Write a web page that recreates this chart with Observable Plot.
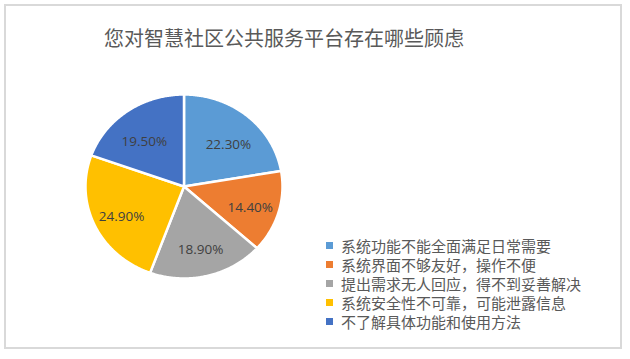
<!DOCTYPE html>
<html>
<head>
<meta charset="utf-8">
<script src="https://cdn.jsdelivr.net/npm/d3@7"></script>
<script src="https://cdn.jsdelivr.net/npm/@observablehq/plot@0.6"></script>
<style>
  body { margin: 0; background: #fff; }
  #wrap { position: relative; width: 630px; height: 359px; overflow: hidden; background: #fff; }
  #frame { position: absolute; left: 4px; top: 4px; width: 614px; height: 341px; border: 2px solid #d9d9d9; }
  #title { position: absolute; left: 0; width: 568px; top: 25px; text-align: center;
           font-family: "Noto Sans CJK SC", sans-serif; font-size: 20px; color: #595959; line-height: 26px; }
  #chart { position: absolute; left: 0; top: 0; }
  #legend { position: absolute; left: 325px; top: 236px; font-family: "Noto Sans CJK SC", sans-serif;
            font-size: 15px; color: #595959; }
  .row { display: flex; align-items: center; height: 19px; }
  .sw { width: 7px; height: 7px; margin-right: 8px; margin-left: 1px; }
</style>
</head>
<body>
<div id="wrap">
  <div id="frame"></div>
  <div id="chart"></div>
  <div id="title"></div>
  <div id="legend"></div>
</div>
<script>
const title = "您对智慧社区公共服务平台存在哪些顾虑";
const categories = [
  "系统功能不能全面满足日常需要",
  "系统界面不够友好，操作不便",
  "提出需求无人回应，得不到妥善解决",
  "系统安全性不可靠，可能泄露信息",
  "不了解具体功能和使用方法"
];
const values = [22.3, 14.4, 18.9, 24.9, 19.5];
const labels = ["22.30%", "14.40%", "18.90%", "24.90%", "19.50%"];
const colors = ["#5B9BD5", "#ED7D31", "#A5A5A5", "#FFC000", "#4472C4"];

document.getElementById("title").textContent = title;

const pie = d3.pie().sort(null).value(d => d.value);
const arcs = pie(categories.map((c, i) => ({category: c, value: values[i], label: labels[i]})));

// polygon points per slice: center -> arc -> center (angle 0 at top, clockwise)
const pts = [];
for (const a of arcs) {
  const n = Math.max(2, Math.ceil((a.endAngle - a.startAngle) / 0.01));
  pts.push({category: a.data.category, x: 0, y: 0});
  for (let k = 0; k <= n; k++) {
    const t = a.startAngle + (a.endAngle - a.startAngle) * k / n;
    pts.push({category: a.data.category, x: Math.sin(t), y: Math.cos(t)});
  }
  pts.push({category: a.data.category, x: 0, y: 0});
}
const labelPts = arcs.map(a => {
  const m = (a.startAngle + a.endAngle) / 2;
  return {label: a.data.label, x: 0.7 * Math.sin(m), y: 0.66 * Math.cos(m) - 0.05};
});

const plot = Plot.plot({
  width: 630,
  height: 359,
  margin: 0,
  x: {domain: [-1, 1], range: [85, 282], axis: null},
  y: {domain: [-1, 1], range: [278, 94], axis: null},
  color: {domain: categories, range: colors},
  style: {background: "transparent"},
  marks: [
    Plot.line(pts, {x: "x", y: "y", z: "category", fill: "category", stroke: "white", strokeWidth: 2.5, curve: "linear"}),
    Plot.text(labelPts, {x: "x", y: "y", text: "label", fill: "#404040", fontSize: 13.5,
      fontFamily: "Open Sans, sans-serif"})
  ]
});
document.getElementById("chart").appendChild(plot);

const legend = document.getElementById("legend");
categories.forEach((c, i) => {
  const row = document.createElement("div");
  row.className = "row";
  const sw = document.createElement("div");
  sw.className = "sw";
  sw.style.background = colors[i];
  const tx = document.createElement("span");
  tx.textContent = c;
  row.appendChild(sw);
  row.appendChild(tx);
  legend.appendChild(row);
});
</script>
</body>
</html>
